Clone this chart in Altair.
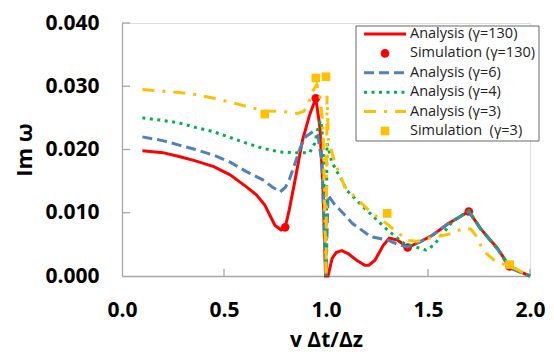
import altair as alt
import pandas as pd

# ---------------- data ----------------
red_x = [0.10, 0.20, 0.28, 0.36, 0.45, 0.53, 0.61, 0.66, 0.70, 0.725, 0.75, 0.78, 0.80, 0.82, 0.845, 0.885, 0.92, 0.95, 0.97, 0.985, 0.998,
         1.01, 1.03, 1.05, 1.077, 1.11, 1.15, 1.19, 1.21, 1.24, 1.28, 1.31, 1.35, 1.40, 1.46, 1.52, 1.60, 1.70, 1.76, 1.84, 1.90, 1.95, 2.00]
red_y = [0.0198, 0.0195, 0.0189, 0.0182, 0.0173, 0.0160, 0.0141, 0.0128, 0.0112, 0.0096, 0.0080, 0.0073, 0.0077, 0.0105, 0.0146, 0.0215, 0.0255, 0.0281, 0.0236, 0.0140, 0.0000,
         0.0000, 0.0028, 0.0037, 0.0040, 0.0035, 0.0025, 0.0017, 0.0017, 0.0025, 0.0048, 0.0060, 0.0057, 0.0045, 0.0054, 0.0064, 0.0083, 0.0102, 0.0074, 0.0044, 0.0015, 0.0007, 0.0000]

blue_x = [0.10, 0.20, 0.28, 0.36, 0.45, 0.53, 0.61, 0.69, 0.74, 0.775, 0.80, 0.82, 0.85, 0.875, 0.90, 0.935, 0.96, 0.98, 0.99, 1.00,
          1.01, 1.04, 1.07, 1.13, 1.22, 1.30, 1.36, 1.40, 1.46, 1.52, 1.60, 1.70, 1.76, 1.84, 1.90, 1.95, 2.00]
blue_y = [0.0220, 0.0214, 0.0207, 0.0200, 0.0191, 0.0180, 0.0165, 0.0152, 0.0140, 0.0133, 0.0140, 0.0152, 0.0180, 0.0204, 0.0220, 0.0228, 0.0222, 0.0180, 0.0080, 0.0000,
          0.0128, 0.0114, 0.0104, 0.0083, 0.0062, 0.0057, 0.0049, 0.0046, 0.0054, 0.0064, 0.0083, 0.0102, 0.0073, 0.0043, 0.0013, 0.0006, 0.0000]

green_x = [0.10, 0.20, 0.28, 0.36, 0.45, 0.53, 0.61, 0.69, 0.775, 0.85, 0.92, 0.945, 0.965, 0.975, 0.985, 1.00,
           1.005, 1.028, 1.05, 1.077, 1.10, 1.134, 1.17, 1.216, 1.30, 1.38, 1.46, 1.49, 1.53, 1.56, 1.62, 1.70, 1.76, 1.84, 1.90, 1.95, 2.00]
green_y = [0.0250, 0.0246, 0.0242, 0.0235, 0.0228, 0.0219, 0.0210, 0.0202, 0.0196, 0.0195, 0.0195, 0.0210, 0.0240, 0.0246, 0.0215, 0.0000,
           0.0210, 0.0181, 0.0167, 0.0152, 0.0136, 0.0125, 0.0113, 0.0099, 0.0073, 0.0052, 0.0044, 0.0041, 0.0049, 0.0062, 0.0086, 0.0103, 0.0074, 0.0044, 0.0014, 0.0007, 0.0000]

yellow_x = [0.10, 0.20, 0.28, 0.36, 0.45, 0.53, 0.61, 0.70, 0.79, 0.86, 0.89, 0.91, 0.935, 0.955, 0.97, 0.985, 1.00,
            1.005, 1.012, 1.03, 1.045, 1.093, 1.15, 1.216, 1.30, 1.347, 1.40, 1.45, 1.51, 1.60, 1.68, 1.71, 1.74, 1.77, 1.84, 1.90, 1.95, 2.00]
yellow_y = [0.0295, 0.0292, 0.0290, 0.0287, 0.0281, 0.0275, 0.0268, 0.0261, 0.0260, 0.0257, 0.0260, 0.0270, 0.0292, 0.0303, 0.0285, 0.0240, 0.0000,
            0.0285, 0.0215, 0.0194, 0.0178, 0.0141, 0.0122, 0.0102, 0.0082, 0.0070, 0.0056, 0.0055, 0.0060, 0.0066, 0.0076, 0.0074, 0.0062, 0.0040, 0.0021, 0.0016, 0.0008, 0.0000]

sim130_x = [0.80, 0.95, 1.40, 1.70, 1.90]
sim130_y = [0.0077, 0.0281, 0.0045, 0.0102, 0.0015]

sim3_x = [0.70, 0.95, 1.00, 1.30, 1.90]
sim3_y = [0.0256, 0.0313, 0.0315, 0.0099, 0.0018]

legend_labels = ["Analysis (γ=130)", "Simulation (γ=130)", "Analysis (γ=6)",
                 "Analysis (γ=4)", "Analysis (γ=3)", "Simulation\u00a0\u00a0(γ=3)"]

x_ticks = [0.0, 0.5, 1.0, 1.5, 2.0]
y_ticks = [0.000, 0.010, 0.020, 0.030, 0.040]

# ---------------- styling ----------------
W, H = 408, 253
FONT = "Open Sans"
GRAY = "#A6A6A6"
RED, BLUE, GREEN, YELLOW = "#FF0000", "#4F81BD", "#00B050", "#FFC000"

xscale = alt.Scale(domain=[0, 2], nice=False, zero=False)
yscale = alt.Scale(domain=[0, 0.04], nice=False)

xaxis = alt.Axis(values=x_ticks, format=".1f", grid=False, ticks=False, tickSize=0,
                 domainColor=GRAY, domainWidth=1.3,
                 labelFont=FONT, labelFontSize=21, labelFontWeight="bold", labelColor="black",
                 labelPadding=23, labelFlush=False,
                 title="v Δt/Δz", titleFont=FONT, titleFontSize=21, titleFontWeight="bold",
                 titleColor="black", titleY=64, titleBaseline="middle")
yaxis = alt.Axis(values=y_ticks, format=".3f", grid=False, ticks=False, tickSize=0,
                 domainColor=GRAY, domainWidth=1.3,
                 labelFont=FONT, labelFontSize=21, labelFontWeight="bold", labelColor="black",
                 labelPadding=23, labelFlush=False,
                 title="Im ω", titleFont=FONT, titleFontSize=22, titleFontWeight="bold",
                 titleColor="black", titleX=-98, titleY=H / 2, titleBaseline="middle",
                 titleAlign="center", titleAngle=270)

X = alt.X("x:Q", scale=xscale, axis=xaxis)
Y = alt.Y("y:Q", scale=yscale, axis=yaxis)


def line_layer(xs, ys, color, dash=None):
    df = pd.DataFrame({"x": xs, "y": ys, "i": list(range(len(xs)))})
    kw = {"strokeDash": dash} if dash else {}
    return alt.Chart(df).mark_line(color=color, strokeWidth=3, **kw).encode(
        x=X, y=Y, order="i:Q")


def point_layer(xs, ys, color, shape):
    df = pd.DataFrame({"x": xs, "y": ys})
    return alt.Chart(df).mark_point(shape=shape, filled=True, color=color, size=75, opacity=1).encode(
        x=X, y=Y)


xt = pd.DataFrame({"x": x_ticks[1:]})
yt = pd.DataFrame({"y": y_ticks[1:]})
xtick_layer = alt.Chart(xt).mark_rule(color=GRAY, strokeWidth=1.3).encode(
    x=X, y=alt.value(H - 7), y2=alt.value(H))
ytick_layer = alt.Chart(yt).mark_rule(color=GRAY, strokeWidth=1.3).encode(
    y=Y, x=alt.value(0), x2=alt.value(8))

main = alt.layer(
    xtick_layer, ytick_layer,
    line_layer(red_x, red_y, RED),
    point_layer(sim130_x, sim130_y, RED, "circle"),
    line_layer(blue_x, blue_y, BLUE, [10, 5]),
    line_layer(green_x, green_y, GREEN, [3, 4.5]),
    line_layer(yellow_x, yellow_y, YELLOW, [12, 8, 3, 8]),
    point_layer(sim3_x, sim3_y, YELLOW, "square"),
)

# ---------------- legend (inside plot, top right) ----------------
leg = pd.DataFrame({"row": list(range(len(legend_labels))), "label": legend_labels})
LY = alt.Y("row:Q", scale=alt.Scale(domain=[0, 5], range=[11, 108]), axis=None)

box = alt.Chart(leg.head(1)).mark_rect(fill="white", stroke="#666666", strokeWidth=1).encode(
    x=alt.value(234), x2=alt.value(417), y=alt.value(3), y2=alt.value(118))


def leg_line(row, color, dash=None):
    kw = {"strokeDash": dash} if dash else {}
    return alt.Chart(leg).transform_filter(alt.datum.row == row).mark_rule(
        color=color, strokeWidth=3, **kw).encode(x=alt.value(242), x2=alt.value(284), y=LY)


def leg_point(row, color, shape):
    return alt.Chart(leg).transform_filter(alt.datum.row == row).mark_point(
        shape=shape, filled=True, color=color, size=75, opacity=1).encode(x=alt.value(263), y=LY)


leg_text = alt.Chart(leg).mark_text(align="left", baseline="middle", font=FONT, fontSize=14.5,
                                    color="#222222").encode(x=alt.value(288), y=LY, text="label:N")

legend = alt.layer(
    box,
    leg_line(0, RED),
    leg_point(1, RED, "circle"),
    leg_line(2, BLUE, [10, 5]),
    leg_line(3, GREEN, [3, 4.5]),
    leg_line(4, YELLOW, [12, 8, 3, 8]),
    leg_point(5, YELLOW, "square"),
    leg_text,
)

chart = alt.layer(main, legend).resolve_scale(y="independent").properties(
    width=W, height=H,
    padding={"left": 114, "top": 15, "right": 16, "bottom": 75},
    autosize=alt.AutoSizeParams(type="none"),
).configure_view(stroke=None).configure(background="white")

chart.save("out.html", embed_options={"renderer": "svg", "actions": False})
